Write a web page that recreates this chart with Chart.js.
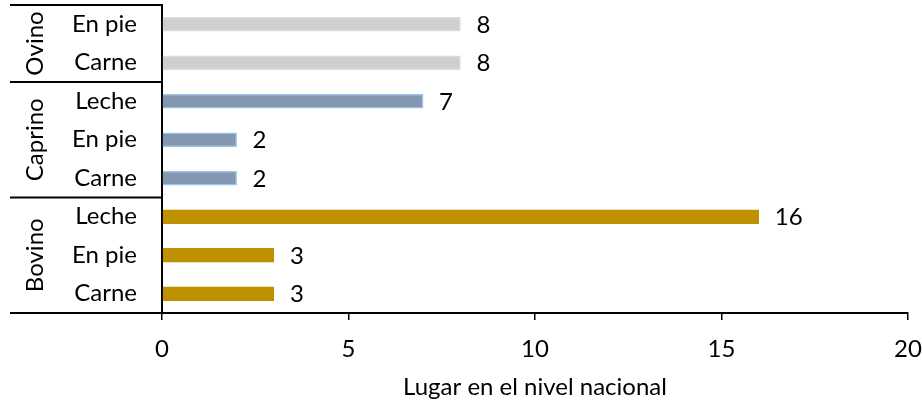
<!DOCTYPE html>
<html>
<head>
<meta charset="utf-8">
<script src="https://cdn.jsdelivr.net/npm/chart.js@4"></script>
<style>
  html, body { margin: 0; padding: 0; background: #fff; }
  #wrap { width: 922px; height: 402px; }
</style>
</head>
<body>
<div id="wrap"><canvas id="myChart" width="922" height="402"></canvas></div>
<script>
// data (top to bottom)
var categories = ['En pie', 'Carne', 'Leche', 'En pie', 'Carne', 'Leche', 'En pie', 'Carne'];
var groups = ['Ovino', 'Caprino', 'Bovino'];
var groupSizes = [2, 3, 3];
var values = [8, 8, 7, 2, 2, 16, 3, 3];
var xTicks = [0, 5, 10, 15, 20];

var FONT = 'Lato, "Open Sans", sans-serif';
var groupFill = ['#d0cece', '#8497b0', '#bf9000'];
var groupBorder = ['#dcdcdc', '#9dc3e6', '#bf9000'];

var fills = [], borders = [];
groupSizes.forEach(function(n, g) {
    for (var i = 0; i < n; i++) { fills.push(groupFill[g]); borders.push(groupBorder[g]); }
});

// group labels, separators and value labels
var extras = {
    id: 'extras',
    afterDraw: function(chart) {
        var ctx = chart.ctx;
        var y = chart.scales.y, x = chart.scales.x;
        var step = y.getPixelForValue(1) - y.getPixelForValue(0);
        var top = y.getPixelForValue(0) - step / 2;
        ctx.save();
        ctx.strokeStyle = '#000';
        ctx.lineWidth = 2;
        ctx.fillStyle = '#000';
        ctx.font = '24px ' + FONT;
        var start = 0;
        var left = 10;
        ctx.beginPath();
        ctx.moveTo(left, top); ctx.lineTo(x.left, top);
        groupSizes.forEach(function(n, g) {
            var y0 = top + start * step, y1 = top + (start + n) * step;
            ctx.moveTo(left, y1); ctx.lineTo(x.left, y1);
            ctx.save();
            ctx.translate(35, (y0 + y1) / 2);
            ctx.rotate(-Math.PI / 2);
            ctx.textAlign = 'center';
            ctx.textBaseline = 'middle';
            ctx.fillText(groups[g], 0, 0);
            ctx.restore();
            start += n;
        });
        ctx.stroke();
        // value labels
        ctx.textAlign = 'left';
        ctx.textBaseline = 'middle';
        values.forEach(function(v, i) {
            ctx.fillText(String(v), x.getPixelForValue(v) + 16, y.getPixelForValue(i) + 1);
        });
        ctx.restore();
    }
};

var ctx = document.getElementById('myChart').getContext('2d');
var myChart = new Chart(ctx, {
    type: 'bar',
    data: {
        labels: categories,
        datasets: [{
            data: values,
            backgroundColor: fills,
            borderColor: borders,
            borderWidth: 1.5,
            barThickness: 14
        }]
    },
    options: {
        indexAxis: 'y',
        responsive: false,
        animation: false,
        layout: { padding: { top: 5, right: 14, left: 0, bottom: 0 } },
        plugins: { legend: { display: false }, tooltip: { enabled: false } },
        scales: {
            x: {
                min: 0,
                max: 20,
                afterBuildTicks: function(scale) {
                    scale.ticks = xTicks.map(function(v) { return { value: v }; });
                },
                afterFit: function(scale) {
                    scale.height = 89;
                    scale.paddingLeft = 0;
                    scale.paddingRight = 0;
                },
                grid: { drawOnChartArea: false, drawTicks: true, tickLength: 7, color: '#000', lineWidth: 1.5 },
                border: { display: true, color: '#000', width: 2 },
                ticks: { color: '#000', font: { family: FONT, size: 24 }, padding: 15, maxRotation: 0 },
                title: {
                    display: true,
                    text: 'Lugar en el nivel nacional',
                    color: '#000',
                    font: { family: FONT, size: 24 },
                    padding: { top: 0, bottom: 0 }
                }
            },
            y: {
                afterFit: function(scale) {
                    scale.width = 162;
                    scale.paddingTop = 0;
                    scale.paddingBottom = 0;
                },
                grid: { display: false, drawTicks: false },
                border: { display: true, color: '#000', width: 2 },
                ticks: { color: '#000', font: { family: FONT, size: 24 }, padding: 25 }
            }
        }
    },
    plugins: [extras]
});
</script>
</body>
</html>
